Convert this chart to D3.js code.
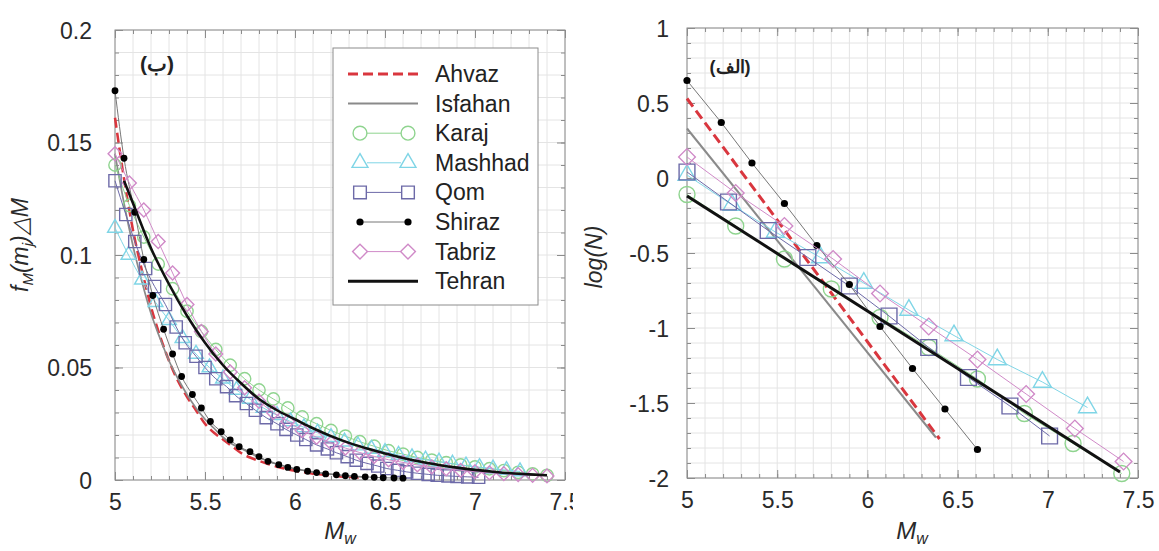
<!DOCTYPE html>
<html>
<head>
<meta charset="utf-8">
<script src="https://cdn.jsdelivr.net/npm/d3@7"></script>
<style>
body { margin: 0; background: #fff; }
text { font-family: "Liberation Sans", Arial, sans-serif; }
</style>
</head>
<body>
<svg id="chart" width="1159" height="551"></svg>
<script>
// ---- data ----
var seriesNames = ["Ahvaz", "Isfahan", "Karaj", "Mashhad", "Qom", "Shiraz", "Tabriz", "Tehran"];

var leftXTicks = [5, 5.5, 6, 6.5, 7, 7.5];
var leftYTicks = [0, 0.05, 0.1, 0.15, 0.2];
var rightXTicks = [5, 5.5, 6, 6.5, 7, 7.5];
var rightYTicks = [-2, -1.5, -1, -0.5, 0, 0.5, 1];

// left panel: f_M(m_j) dM against Mw
var ahvazPdfM = [5.00,5.05,5.10,5.15,5.20,5.25,5.30,5.35,5.40,5.45,5.50,5.55,5.60,5.65,5.70,5.75,5.80,5.85,5.90,5.95,6.00,6.05,6.10,6.15,6.20,6.25,6.30,6.35,6.40];
var ahvazPdf = [0.161,0.134,0.111,0.093,0.077,0.064,0.053,0.044,0.037,0.031,0.025,0.021,0.018,0.015,0.012,0.010,0.0085,0.0071,0.0059,0.0049,0.0041,0.0034,0.0028,0.0024,0.0020,0.0016,0.0014,0.0011,0.0010];
var isfahanPdfM = [5.00,5.05,5.10,5.15,5.20,5.25,5.30,5.35,5.40,5.45,5.50,5.55,5.60,5.65,5.70,5.75,5.80,5.85,5.90,5.95,6.00,6.05,6.10,6.15,6.20,6.25,6.30,6.35,6.40];
var isfahanPdf = [0.145,0.123,0.104,0.088,0.074,0.063,0.053,0.045,0.038,0.032,0.027,0.023,0.019,0.016,0.014,0.012,0.010,0.0084,0.0071,0.006,0.0051,0.0043,0.0036,0.0031,0.0026,0.0022,0.0018,0.0015,0.0013];
var karajPdfM = [5.00,5.08,5.16,5.24,5.32,5.40,5.48,5.56,5.64,5.72,5.80,5.88,5.96,6.04,6.12,6.20,6.28,6.36,6.44,6.52,6.60,6.68,6.76,6.84,6.92,7.00,7.08,7.16,7.24,7.32,7.40];
var karajPdf = [0.140,0.122,0.108,0.096,0.085,0.075,0.066,0.058,0.051,0.045,0.040,0.036,0.032,0.028,0.025,0.022,0.0195,0.017,0.015,0.013,0.0115,0.010,0.0088,0.0077,0.0067,0.0058,0.005,0.0042,0.0034,0.0027,0.0021];
var mashhadPdfM = [5.000,5.075,5.150,5.225,5.300,5.375,5.450,5.525,5.600,5.675,5.750,5.825,5.900,5.975,6.050,6.125,6.200,6.275,6.350,6.425,6.500,6.575,6.650,6.725,6.800,6.875,6.950,7.025,7.100,7.175,7.250];
var mashhadPdf = [0.112,0.100,0.089,0.079,0.071,0.063,0.056,0.050,0.045,0.040,0.036,0.032,0.0288,0.026,0.0234,0.021,0.019,0.017,0.0153,0.0138,0.0124,0.0111,0.010,0.009,0.0081,0.0072,0.0064,0.0057,0.005,0.0044,0.0038];
var qomPdfM = [5.00,5.06,5.11,5.17,5.22,5.28,5.34,5.39,5.45,5.50,5.56,5.62,5.67,5.73,5.78,5.84,5.90,5.95,6.01,6.06,6.12,6.18,6.23,6.29,6.34,6.40,6.46,6.51,6.57,6.62,6.68,6.74,6.79,6.85,6.90,6.96,7.02];
var qomPdf = [0.133,0.118,0.106,0.094,0.086,0.078,0.068,0.061,0.055,0.050,0.045,0.0415,0.0375,0.034,0.031,0.0277,0.025,0.0225,0.020,0.018,0.0156,0.0138,0.0121,0.0104,0.0088,0.0074,0.0062,0.0051,0.0043,0.0036,0.003,0.0025,0.0021,0.0018,0.0016,0.0014,0.0012];
var shirazPdfM = [5.00,5.05,5.11,5.16,5.21,5.27,5.32,5.37,5.43,5.48,5.53,5.59,5.64,5.69,5.75,5.80,5.85,5.91,5.96,6.01,6.07,6.12,6.17,6.23,6.28,6.33,6.39,6.44,6.49,6.55,6.60];
var shirazPdf = [0.173,0.143,0.119,0.098,0.082,0.067,0.056,0.046,0.038,0.032,0.026,0.0215,0.0178,0.0148,0.0126,0.0104,0.0083,0.0068,0.0056,0.0047,0.0039,0.0033,0.0027,0.0023,0.0019,0.0016,0.0014,0.0012,0.0010,0.0009,0.0008];
var tabrizPdfM = [5.00,5.08,5.16,5.24,5.32,5.40,5.48,5.56,5.64,5.72,5.80,5.88,5.96,6.04,6.12,6.20,6.28,6.36,6.44,6.52,6.60,6.68,6.76,6.84,6.92,7.00,7.08,7.16,7.24,7.32,7.40];
var tabrizPdf = [0.145,0.132,0.120,0.106,0.092,0.078,0.066,0.056,0.048,0.041,0.035,0.030,0.026,0.022,0.019,0.0165,0.0142,0.0122,0.0105,0.009,0.0078,0.0067,0.0058,0.005,0.0043,0.0037,0.0032,0.0028,0.0024,0.0021,0.0018];
var tehranPdfM = [5.05,5.10,5.20,5.30,5.40,5.50,5.60,5.70,5.80,5.90,6.00,6.10,6.20,6.30,6.40,6.50,6.60,6.70,6.80,6.90,7.00,7.10,7.20,7.30,7.40];
var tehranPdf = [0.133,0.123,0.103,0.087,0.073,0.061,0.051,0.043,0.036,0.031,0.027,0.023,0.0195,0.0165,0.014,0.0118,0.0098,0.0081,0.0067,0.0055,0.0045,0.0037,0.003,0.0025,0.0021];

// right panel: log(N) against Mw
var ahvazLogM = [5.0, 6.4];
var ahvazLogN = [0.53, -1.74];
var isfahanLogM = [5.0, 6.38];
var isfahanLogN = [0.33, -1.73];
var karajLogM = [5.0,5.27,5.54,5.80,6.07,6.34,6.61,6.87,7.14,7.41];
var karajLogN = [-0.11,-0.32,-0.54,-0.74,-0.93,-1.13,-1.34,-1.57,-1.77,-1.97];
var mashhadLogM = [5.0,5.25,5.49,5.74,5.98,6.23,6.48,6.72,6.97,7.22];
var mashhadLogN = [0.02,-0.18,-0.36,-0.53,-0.70,-0.88,-1.05,-1.21,-1.36,-1.53];
var qomLogM = [5.0,5.23,5.45,5.67,5.90,6.12,6.34,6.56,6.79,7.01];
var qomLogN = [0.04,-0.16,-0.35,-0.53,-0.72,-0.92,-1.13,-1.33,-1.52,-1.72];
var shirazLogM = [5.0,5.19,5.36,5.54,5.72,5.90,6.07,6.25,6.43,6.61];
var shirazLogN = [0.65,0.37,0.10,-0.17,-0.45,-0.71,-0.99,-1.27,-1.54,-1.81];
var tabrizLogM = [5.0,5.27,5.54,5.81,6.07,6.34,6.61,6.88,7.15,7.42];
var tabrizLogN = [0.14,-0.10,-0.32,-0.54,-0.77,-0.99,-1.21,-1.44,-1.67,-1.89];
var tehranLogM = [5.0, 7.4];
var tehranLogN = [-0.12, -1.96];

var pdfData = {
  Ahvaz: [ahvazPdfM, ahvazPdf], Isfahan: [isfahanPdfM, isfahanPdf], Karaj: [karajPdfM, karajPdf],
  Mashhad: [mashhadPdfM, mashhadPdf], Qom: [qomPdfM, qomPdf], Shiraz: [shirazPdfM, shirazPdf],
  Tabriz: [tabrizPdfM, tabrizPdf], Tehran: [tehranPdfM, tehranPdf]
};
var logData = {
  Ahvaz: [ahvazLogM, ahvazLogN], Isfahan: [isfahanLogM, isfahanLogN], Karaj: [karajLogM, karajLogN],
  Mashhad: [mashhadLogM, mashhadLogN], Qom: [qomLogM, qomLogN], Shiraz: [shirazLogM, shirazLogN],
  Tabriz: [tabrizLogM, tabrizLogN], Tehran: [tehranLogM, tehranLogN]
};

// ---- styles ----
var styles = {
  Ahvaz:   {color: "#d9363e", width: 3, dash: "10,5", marker: null},
  Isfahan: {color: "#8a8a8a", width: 2, dash: null, marker: null},
  Karaj:   {color: "#8fd48f", width: 1, dash: null, marker: "circle"},
  Mashhad: {color: "#7fd5e6", width: 1, dash: null, marker: "triangle"},
  Qom:     {color: "#6d6aa8", width: 1, dash: null, marker: "square"},
  Shiraz:  {color: "#777777", width: 1, dash: null, marker: "dot"},
  Tabriz:  {color: "#d08ac8", width: 1, dash: null, marker: "diamond"},
  Tehran:  {color: "#111111", width: 3, dash: null, marker: null}
};

var svg = d3.select("#chart");

var xL = d3.scaleLinear().domain([5, 7.5]).range([115, 565]);
var yL = d3.scaleLinear().domain([0, 0.2]).range([480, 30]);
var xR = d3.scaleLinear().domain([5, 7.5]).range([687, 1138]);
var yR = d3.scaleLinear().domain([-2, 1]).range([478, 28]);

function fmt(v) { return String(v); }

function drawFrame(g, x, y, xMajor, xStep, yMajor, yStep, clipId, labelGap) {
  var x0 = x.range()[0], x1 = x.range()[1], y0 = y.range()[1], y1 = y.range()[0];
  var xd = x.domain(), yd = y.domain();
  var xMinor = d3.range(xd[0], xd[1] + 1e-9, xStep);
  var yMinor = d3.range(yd[0], yd[1] + 1e-9, yStep);

  g.append("rect").attr("x", x0).attr("y", y0).attr("width", x1 - x0).attr("height", y1 - y0)
    .attr("fill", "#fff");

  var grid = g.append("g");
  grid.selectAll("line.gx").data(xMinor).enter().append("line")
    .attr("x1", d => x(d)).attr("x2", d => x(d)).attr("y1", y0).attr("y2", y1)
    .attr("stroke", "#e4e4e4").attr("stroke-width", 1);
  grid.selectAll("line.gy").data(yMinor).enter().append("line")
    .attr("y1", d => y(d)).attr("y2", d => y(d)).attr("x1", x0).attr("x2", x1)
    .attr("stroke", "#e4e4e4").attr("stroke-width", 1);

  // inward ticks on all four sides
  function axisSet(gen, tr, major, minor, labels, clip) {
    var a = g.append("g").attr("transform", tr)
      .call(gen.tickValues(minor).tickSize(-4).tickFormat(""));
    a.select(".domain").remove();
    a.selectAll("line").attr("stroke", "#8c8c8c");
    var b = g.append("g").attr("transform", tr)
      .call(gen.tickValues(major).tickSize(-8).tickPadding(labels ? 14 : 0).tickFormat(labels ? fmt : ""));
    b.select(".domain").remove();
    b.selectAll("line").attr("stroke", "#8c8c8c");
    b.attr("font-family", null).attr("font-size", 23);
    b.selectAll("text").attr("fill", "#2a2a2a");
    if (clip) b.attr("clip-path", "url(#" + clip + ")");
    return b;
  }
  var bx = axisSet(d3.axisBottom(x), "translate(0," + y1 + ")", xMajor, xMinor, true, clipId);
  bx.selectAll("text").attr("dy", "0.71em");
  axisSet(d3.axisTop(x), "translate(0," + y0 + ")", xMajor, xMinor, false);
  var ly = axisSet(d3.axisLeft(y), "translate(" + x0 + ",0)", yMajor, yMinor, true);
  ly.selectAll("text").attr("x", -labelGap).attr("dy", "0.36em");
  axisSet(d3.axisRight(y), "translate(" + x1 + ",0)", yMajor, yMinor, false);

  g.append("rect").attr("x", x0).attr("y", y0).attr("width", x1 - x0).attr("height", y1 - y0)
    .attr("fill", "none").attr("stroke", "#8c8c8c").attr("stroke-width", 1);
}

function markerPath(kind, area) {
  if (kind === "circle") return d3.symbol(d3.symbolCircle, area)();
  if (kind === "triangle") return d3.symbol(d3.symbolTriangle, area)();
  if (kind === "square" || kind === "diamond") return d3.symbol(d3.symbolSquare, area)();
  return d3.symbol(d3.symbolCircle, area)();
}

function drawMarkers(g, pts, st, area, dotR) {
  if (st.marker === "dot") {
    g.selectAll(null).data(pts).enter().append("circle")
      .attr("cx", d => d[0]).attr("cy", d => d[1]).attr("r", dotR).attr("fill", "#000");
    return;
  }
  var p = markerPath(st.marker, area);
  g.selectAll(null).data(pts).enter().append("path")
    .attr("d", p)
    .attr("transform", d => "translate(" + d[0] + "," + d[1] + ")" + (st.marker === "diamond" ? " rotate(45)" : ""))
    .attr("fill", "none").attr("stroke", st.color).attr("stroke-width", 1.4);
}

function drawPanel(g, x, y, data, curve, sizes, lineScale) {
  var line = d3.line().x(d => d[0]).y(d => d[1]).curve(curve);
  seriesNames.forEach(function(name) {
    var st = styles[name];
    var ms = data[name][0], vs = data[name][1];
    var pts = ms.map(function(m, i) { return [x(m), y(vs[i])]; });
    var w = st.marker ? st.width : st.width * lineScale;
    g.append("path").attr("d", line(pts)).attr("fill", "none")
      .attr("stroke", st.color).attr("stroke-width", w)
      .attr("stroke-dasharray", st.dash);
    if (st.marker) drawMarkers(g, pts, st, sizes[st.marker], sizes.dot);
  });
}

// clip for the cut-off "7.5" of the left panel
svg.append("defs").append("clipPath").attr("id", "leftclip")
  .append("rect").attr("x", 0).attr("y", -60).attr("width", 573).attr("height", 120);

// ---- left panel ----
var gL = svg.append("g");
drawFrame(gL, xL, yL, leftXTicks, 0.1, leftYTicks, 0.01, "leftclip", 23);
drawPanel(gL, xL, yL, pdfData, d3.curveMonotoneX,
  {circle: 120, triangle: 95, square: 150, diamond: 95, dot: 3.4}, 0.85);

// legend
var lg = svg.append("g");
lg.append("rect").attr("x", 333).attr("y", 48).attr("width", 205).attr("height", 257)
  .attr("fill", "#fff").attr("stroke", "#8c8c8c");
seriesNames.forEach(function(name, i) {
  var st = styles[name];
  var yy = 74 + i * 29.6;
  if (st.marker) {
    lg.append("line").attr("x1", st.marker === "dot" ? 360 : 367).attr("x2", st.marker === "dot" ? 408 : 401)
      .attr("y1", yy).attr("y2", yy).attr("stroke", st.color).attr("stroke-width", 1);
    drawMarkers(lg, [[360, yy], [408, yy]], st, {circle: 150, triangle: 110, square: 160, diamond: 110}[st.marker], 3.6);
  } else {
    lg.append("line").attr("x1", 348).attr("x2", 418).attr("y1", yy).attr("y2", yy)
      .attr("stroke", st.color).attr("stroke-width", st.width)
      .attr("stroke-dasharray", st.dash);
  }
  lg.append("text").attr("x", 435).attr("y", yy).attr("dy", "0.35em")
    .attr("font-size", 23).attr("fill", "#222").text(name);
});

// ---- right panel ----
var gR = svg.append("g");
drawFrame(gR, xR, yR, rightXTicks, 0.1, rightYTicks, 0.1, null, 18);
drawPanel(gR, xR, yR, logData, d3.curveLinear,
  {circle: 200, triangle: 140, square: 250, diamond: 140, dot: 3.6}, 1);

// ---- axis titles and panel tags ----
function mwLabel(cx) {
  var t = svg.append("text").attr("x", cx).attr("y", 539).attr("text-anchor", "middle")
    .attr("font-size", 24).attr("font-style", "italic").attr("fill", "#2a2a2a");
  t.append("tspan").text("M");
  t.append("tspan").attr("font-size", 16).attr("dy", 5).text("w");
}
mwLabel(340);
mwLabel(912);

var yl = svg.append("text").attr("transform", "translate(28,245) rotate(-90)")
  .attr("text-anchor", "middle").attr("font-size", 23).attr("font-style", "italic").attr("fill", "#2a2a2a");
yl.append("tspan").text("f");
yl.append("tspan").attr("font-size", 15).attr("dy", 5).text("M");
yl.append("tspan").attr("dy", -5).text("(m");
yl.append("tspan").attr("font-size", 15).attr("dy", 5).text("j");
yl.append("tspan").attr("dy", -5).text(")\u25B3M");

svg.append("text").attr("transform", "translate(602,257) rotate(-90)")
  .attr("text-anchor", "middle").attr("font-size", 23).attr("font-style", "italic")
  .attr("fill", "#2a2a2a").text("log(N)");

svg.append("text").attr("x", 157).attr("y", 64).attr("dy", "0.35em").attr("text-anchor", "middle")
  .attr("font-family", "DejaVu Sans").attr("font-weight", "bold").attr("font-size", 21)
  .attr("fill", "#222").text("(\u0628)");
svg.append("text").attr("x", 730).attr("y", 67).attr("dy", "0.35em").attr("text-anchor", "middle")
  .attr("font-family", "DejaVu Sans").attr("font-weight", "bold").attr("font-size", 18)
  .attr("fill", "#222").text("(\u0627\u0644\u0641)");
</script>
</body>
</html>
